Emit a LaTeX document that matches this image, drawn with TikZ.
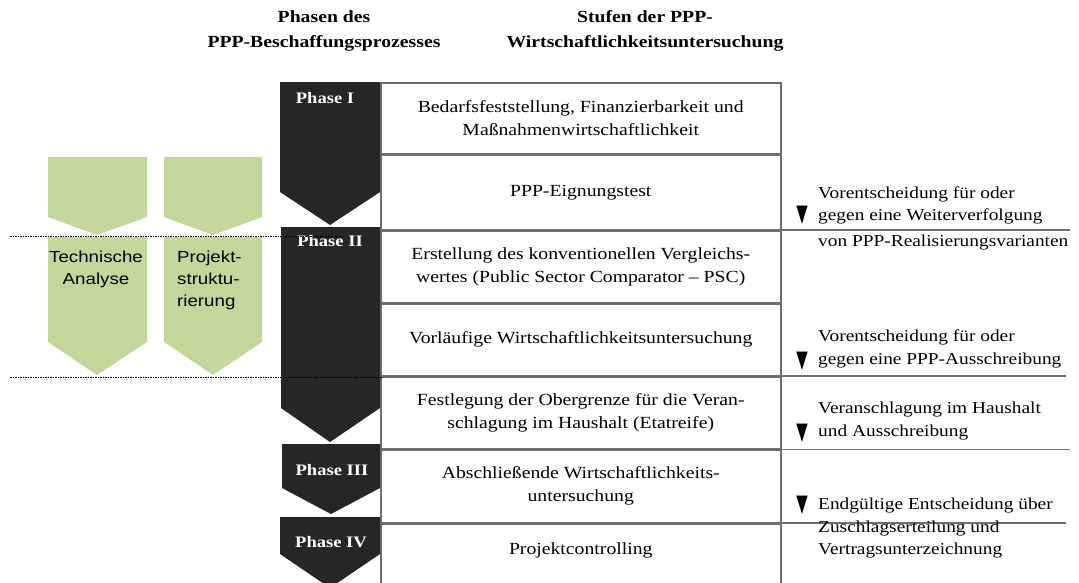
\documentclass[tikz,border=0pt]{standalone}
\usepackage{fontspec}
\setmainfont[FakeStretch=1.16]{Liberation Serif}
\newfontfamily\arialfont[FakeStretch=1.17]{Liberation Sans}
\newfontfamily\symfont{DejaVu Sans}
\definecolor{tablegray}{RGB}{110,110,110}
\definecolor{phaseblack}{RGB}{38,38,38}
\definecolor{stepgreen}{RGB}{196,215,155}
\begin{document}
\begin{tikzpicture}[x=1pt,y=-1pt,
	every node/.style={inner sep=0pt,font=\fontsize{17}{23}\selectfont},
	cell/.style={draw=tablegray,line width=1.5pt,align=center,minimum width=400pt,anchor=north west},
	head/.style={align=center,font=\bfseries\fontsize{17}{25}\selectfont},
	phaselabel/.style={text=white,font=\bfseries\fontsize{16}{20}\selectfont},
	decision/.style={align=left,anchor=west,font=\fontsize{16.7}{23.5}\selectfont},
	marker/.style={font=\symfont\fontsize{24}{24}\selectfont,xscale=0.62},
	greentext/.style={font=\arialfont\fontsize{16}{22}\selectfont},
	rightline/.style={draw=tablegray,line width=1.5pt},
	dotline/.style={line width=0.8pt,dash pattern=on 1.5pt off 1pt}]
\useasboundingbox (0,0) rectangle (1079,582);

% headers
\node[head] (hphasen) at (324,31) {Phasen des\\PPP-Beschaffungsprozesses};
\node[head] (hstufen) at (645,31) {Stufen der PPP-\\Wirtschaftlichkeitsuntersuchung};

% table of steps
\node[cell,minimum height=71pt] (bedarf) at (380,82) {Bedarfsfeststellung, Finanzierbarkeit und\\Maßnahmenwirtschaftlichkeit};
\node[cell,minimum height=74pt] (eignung) at (bedarf.south west) {PPP-Eignungstest};
\node[cell,minimum height=72pt] (psc) at (eignung.south west) {Erstellung des konventionellen Vergleichs-\\wertes (Public Sector Comparator -- PSC)};
\node[cell,minimum height=71pt] (vorl) at (psc.south west) {Vorläufige Wirtschaftlichkeitsuntersuchung};
\node[cell,minimum height=72pt] (etat) at (vorl.south west) {Festlegung der Obergrenze für die Veran-\\schlagung im Haushalt (Etatreife)};
\node[cell,minimum height=72pt] (abschl) at (etat.south west) {Abschließende Wirtschaftlichkeits-\\untersuchung};
\node[cell,minimum height=80pt,text depth=0pt] (contr) at (abschl.south west) {\raisebox{30pt}{Projektcontrolling}};

% decision lines
\draw[rightline] (eignung.south east) -- ++(288,0) coordinate (d1end);
\draw[rightline] (vorl.south east) -- ++(284,0) coordinate (d2end);
\draw[rightline] (etat.south east) -- ++(288,0) coordinate (d3end);
\draw[rightline] (abschl.south east) -- ++(284,0) coordinate (d4end);

% decisions
\node[decision] (dec1) at (818,218) {Vorentscheidung für oder\\[-1.5pt]gegen eine Weiterverfolgung\\[2.5pt]von PPP-Realisierungsvarianten};
\node[decision] (dec2) at (818,349) {Vorentscheidung für oder\\gegen eine PPP-Ausschreibung};
\node[decision] (dec3) at (818,421) {Veranschlagung im Haushalt\\und Ausschreibung};
\node[decision,font=\fontsize{16.7}{22.5}\selectfont] (dec4) at (818,528) {Endgültige Entscheidung über\\Zuschlagserteilung und\\Vertragsunterzeichnung};
\node[marker] (m1) at (802,215) {▼};
\node[marker] (m2) at (802,361) {▼};
\node[marker] (m3) at (802,433) {▼};
\node[marker] (m4) at (802,505) {▼};

% phases
\fill[phaseblack] (280,82) -- (380,82) -- (380,192) -- (330,225) -- (280,192) -- cycle;
\fill[phaseblack] (281,227) -- (380,227) -- (380,408) -- (330,442) -- (281,408) -- cycle;
\fill[phaseblack] (282,444) -- (380,444) -- (380,488) -- (331,514) -- (282,488) -- cycle;
\fill[phaseblack] (280,517) -- (380,517) -- (380,554) -- (330,588) -- (280,554) -- cycle;
\node[phaselabel] (phaseI) at (325,98) {Phase I};
\node[phaselabel] (phaseII) at (330,241) {Phase II};
\node[phaselabel] (phaseIII) at (332,470) {Phase III};
\node[phaselabel] (phaseIV) at (331,542) {Phase IV};

% parallel tasks
\fill[stepgreen] (48,157) -- (147,157) -- (147,217) -- (97,235) -- (48,217) -- cycle;
\fill[stepgreen] (48,237) -- (147,237) -- (147,342) -- (97,375) -- (48,342) -- cycle;
\fill[stepgreen] (164,157) -- (262,157) -- (262,217) -- (213,235) -- (164,217) -- cycle;
\fill[stepgreen] (164,237) -- (262,237) -- (262,342) -- (213,375) -- (164,342) -- cycle;
\node[greentext,align=center] (technik) at (96,269) {Technische\\Analyse};
\node[greentext,align=left,anchor=west] (struktur) at (177,280) {Projekt-\\struktu-\\rierung};

% phase borders
\coordinate (b1start) at (10,236);
\coordinate (b1end) at (345,236);
\coordinate (b2start) at (10,377);
\coordinate (b2end) at (382,377);
\draw[dotline] (b1start) -- (b1end);
\draw[dotline] (b2start) -- (b2end);
\end{tikzpicture}
\end{document}
